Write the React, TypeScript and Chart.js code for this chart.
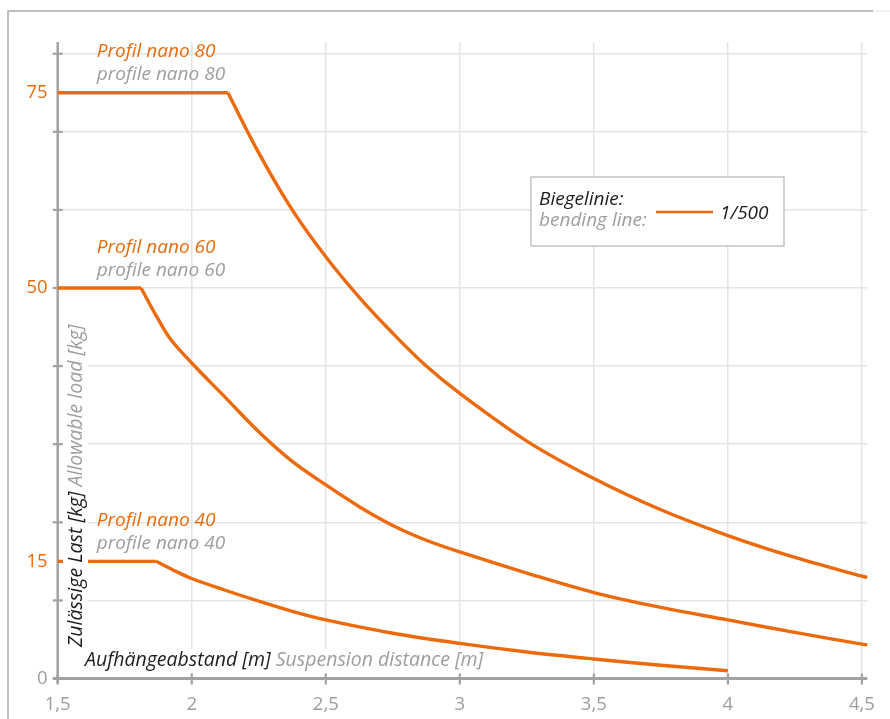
import React, { useEffect, useRef } from 'react';
import { Chart, registerables } from 'chart.js';

Chart.register(...registerables);

// ---------- data ----------
const xTicks = [1.5, 2, 2.5, 3, 3.5, 4, 4.5];
const yTicks = [0, 10, 15, 20, 30, 40, 50, 60, 70, 75, 80];
const yLabelled = [0, 15, 50, 75];

// first two points of each series = constant plateau, the rest = decay curve
const nano80X = [1.5, 2.135, 2.25, 2.375, 2.5, 2.625, 2.75, 2.875, 3.0, 3.25, 3.5, 3.75, 4.0, 4.25, 4.5, 4.52];
const nano80Y = [75, 75, 67.3, 60, 54.0, 48.8, 44.2, 40.0, 36.5, 30.4, 25.6, 21.6, 18.3, 15.5, 13.1, 12.95];

const nano60X = [1.5, 1.811, 1.87, 1.922, 2.0, 2.125, 2.25, 2.375, 2.5, 2.625, 2.75, 2.875, 3.0, 3.25, 3.5, 3.75, 4.0, 4.25, 4.5, 4.52];
const nano60Y = [50, 50, 46.3, 43.4, 40.4, 36.0, 31.6, 27.8, 24.8, 22.0, 19.6, 17.7, 16.2, 13.5, 11.0, 9.1, 7.5, 5.9, 4.4, 4.3];

const nano40X = [1.5, 1.867, 1.93, 2.0, 2.125, 2.25, 2.375, 2.5, 2.75, 3.0, 3.25, 3.5, 3.75, 4.0];
const nano40Y = [15, 15, 13.9, 12.8, 11.3, 9.9, 8.6, 7.5, 5.8, 4.5, 3.4, 2.5, 1.7, 1.0];

const profileNamesDe = ['Profil nano 80', 'Profil nano 60', 'Profil nano 40'];
const profileNamesEn = ['profile nano 80', 'profile nano 60', 'profile nano 40'];
const profileLevels = [75, 50, 15];
const profileLabelX = 1.646;

const xTitleDe = 'Aufhängeabstand [m]';
const xTitleEn = 'Suspension distance [m]';
const yTitleDe = 'Zulässige Last [kg]';
const yTitleEn = 'Allowable load [kg]';
const legendTitleDe = 'Biegelinie:';
const legendTitleEn = 'bending line:';
const legendItem = '1/500';

// ---------- style ----------
const FONT = "'Open Sans', sans-serif";
const ORANGE = '#ec6a0c';
const GRAY = '#9d9d9c';
const BLACK = '#1d1d1b';
const GRID = '#e4e4e4';
const AXIS = '#a2a2a2';

const toPoints = (xs: number[], ys: number[]) => xs.map((x, i) => ({ x, y: ys[i] }));

const decorPlugin = {
  id: 'decor',
  beforeDatasetsDraw(chart: any) {
    const { ctx, scales } = chart;
    const xs = scales.x;
    const ys = scales.y;
    const x0 = xs.getPixelForValue(1.5);
    const y0 = ys.getPixelForValue(0);
    ctx.save();
    // outer frame
    ctx.strokeStyle = '#aaaaaa';
    ctx.lineWidth = 1.5;
    ctx.beginPath();
    ctx.moveTo(8, 719);
    ctx.lineTo(8, 11);
    ctx.lineTo(873, 11);
    ctx.stroke();
    ctx.strokeStyle = '#eeeeee';
    ctx.beginPath();
    ctx.moveTo(873, 11);
    ctx.lineTo(890, 11);
    ctx.stroke();

    ctx.strokeStyle = AXIS;
    // y axis
    ctx.lineWidth = 2.5;
    ctx.beginPath();
    ctx.moveTo(x0, chart.chartArea.top);
    ctx.lineTo(x0, y0 + 5);
    ctx.stroke();
    // x axis
    ctx.lineWidth = 3;
    ctx.beginPath();
    ctx.moveTo(x0 - 5, y0);
    ctx.lineTo(chart.chartArea.right, y0);
    ctx.stroke();
    // tick marks
    ctx.lineWidth = 2.2;
    yTicks.forEach((v) => {
      if (v % 10 !== 0 || v === 0) return;
      const py = ys.getPixelForValue(v);
      ctx.beginPath();
      ctx.moveTo(x0 - 5, py);
      ctx.lineTo(x0 + 5, py);
      ctx.stroke();
    });
    xTicks.forEach((v) => {
      const px = xs.getPixelForValue(v);
      ctx.beginPath();
      ctx.moveTo(px, y0 - 5);
      ctx.lineTo(px, y0 + 6);
      ctx.stroke();
    });
    ctx.restore();
  },
  afterDatasetsDraw(chart: any) {
    const { ctx, scales } = chart;
    const xs = scales.x;
    const ys = scales.y;
    ctx.save();
    ctx.textAlign = 'left';
    ctx.textBaseline = 'alphabetic';

    // y axis title (rotated) with white backing
    ctx.font = `italic 19.5px ${FONT}`;
    const yDeW = ctx.measureText(yTitleDe + ' ').width;
    const yEnW = ctx.measureText(yTitleEn).width;
    const yBase = 647;
    ctx.fillStyle = '#ffffff';
    ctx.fillRect(63, yBase - yDeW - yEnW - 4, 25, yDeW + yEnW + 8);
    ctx.save();
    ctx.translate(81.5, yBase);
    ctx.rotate(-Math.PI / 2);
    ctx.fillStyle = BLACK;
    ctx.fillText(yTitleDe, 0, 0);
    ctx.fillStyle = GRAY;
    ctx.fillText(yTitleEn, yDeW, 0);
    ctx.restore();

    // x axis title with white backing
    const xDeW = ctx.measureText(xTitleDe + ' ').width;
    const xEnW = ctx.measureText(xTitleEn).width;
    ctx.fillStyle = '#ffffff';
    ctx.fillRect(82, 649, xDeW + xEnW + 6, 24);
    ctx.fillStyle = BLACK;
    ctx.fillText(xTitleDe, 85, 666);
    ctx.fillStyle = GRAY;
    ctx.fillText(xTitleEn, 85 + xDeW, 666);

    // profile labels
    ctx.font = `italic 19px ${FONT}`;
    const lx = xs.getPixelForValue(profileLabelX);
    profileLevels.forEach((lvl, i) => {
      const py = ys.getPixelForValue(lvl);
      ctx.fillStyle = ORANGE;
      ctx.fillText(profileNamesDe[i], lx, py - 35.5);
      ctx.fillStyle = GRAY;
      ctx.fillText(profileNamesEn[i], lx, py - 12.5);
    });

    // legend box
    ctx.fillStyle = '#ffffff';
    ctx.fillRect(531, 177, 253, 69);
    ctx.strokeStyle = '#b5b5b5';
    ctx.lineWidth = 1.2;
    ctx.strokeRect(531, 177, 253, 69);
    ctx.fillStyle = BLACK;
    ctx.fillText(legendTitleDe, 539, 205);
    ctx.fillStyle = GRAY;
    ctx.fillText(legendTitleEn, 539, 226);
    ctx.strokeStyle = ORANGE;
    ctx.lineWidth = 2.5;
    ctx.beginPath();
    ctx.moveTo(656, 212);
    ctx.lineTo(713, 212);
    ctx.stroke();
    ctx.fillStyle = BLACK;
    ctx.fillText(legendItem, 720, 219);
    ctx.restore();
  },
};

export default function App() {
  const ref = useRef<HTMLCanvasElement | null>(null);

  useEffect(() => {
    if (!ref.current) return;
    const base = {
      borderColor: ORANGE,
      backgroundColor: ORANGE,
      borderWidth: 3.4,
      pointRadius: 0,
      fill: false,
      clip: false as any,
      borderCapStyle: 'butt' as const,
      borderJoinStyle: 'round' as const,
    };
    const plateau = (xs: number[], ys: number[]) => ({
      ...base,
      data: toPoints(xs.slice(0, 2), ys.slice(0, 2)),
      tension: 0,
    });
    const curve = (xs: number[], ys: number[]) => ({
      ...base,
      data: toPoints(xs.slice(1), ys.slice(1)),
      tension: 0.35,
    });
    const chart = new Chart(ref.current, {
      type: 'line',
      data: {
        datasets: [
          plateau(nano80X, nano80Y),
          curve(nano80X, nano80Y),
          plateau(nano60X, nano60Y),
          curve(nano60X, nano60Y),
          plateau(nano40X, nano40Y),
          curve(nano40X, nano40Y),
        ],
      },
      options: {
        animation: false,
        responsive: false,
        devicePixelRatio: 1,
        layout: { padding: { left: 0, right: 17, top: 42, bottom: 0 } },
        plugins: { legend: { display: false }, tooltip: { enabled: false } },
        scales: {
          x: {
            type: 'linear',
            min: 1.5,
            max: 4.52,
            afterBuildTicks: (s: any) => {
              s.ticks = xTicks.map((v) => ({ value: v }));
            },
            afterFit: (s: any) => {
              s.height = 40.5;
            },
            border: { display: false },
            grid: {
              drawTicks: false,
              lineWidth: 1.5,
              color: (c: any) => (c.tick && c.tick.value === 1.5 ? 'rgba(0,0,0,0)' : GRID),
            },
            ticks: {
              padding: 15,
              color: GRAY,
              font: { family: FONT, size: 18.5 },
              callback: (v: any) => String(v).replace('.', ','),
            },
          },
          y: {
            type: 'linear',
            min: 0,
            max: 81.5,
            afterBuildTicks: (s: any) => {
              s.ticks = yTicks.map((v) => ({ value: v }));
            },
            afterFit: (s: any) => {
              s.width = 57.7;
            },
            border: { display: false },
            grid: {
              drawTicks: false,
              lineWidth: 1.5,
              color: (c: any) => {
                const v = c.tick ? c.tick.value : -1;
                return v === 0 || v === 15 || v === 75 ? 'rgba(0,0,0,0)' : GRID;
              },
            },
            ticks: {
              padding: 10,
              color: (c: any) => (c.tick && c.tick.value === 0 ? GRAY : ORANGE),
              font: { family: FONT, size: 18.5 },
              callback: (v: any) => (yLabelled.includes(Number(v)) ? String(v) : ''),
            },
          },
        },
      },
      plugins: [decorPlugin],
    });
    return () => chart.destroy();
  }, []);

  return (
    <div style={{ position: 'fixed', left: 0, top: 0, width: 890, height: 719, background: '#ffffff' }}>
      <canvas ref={ref} width={890} height={719} style={{ width: 890, height: 719, display: 'block' }} />
    </div>
  );
}
